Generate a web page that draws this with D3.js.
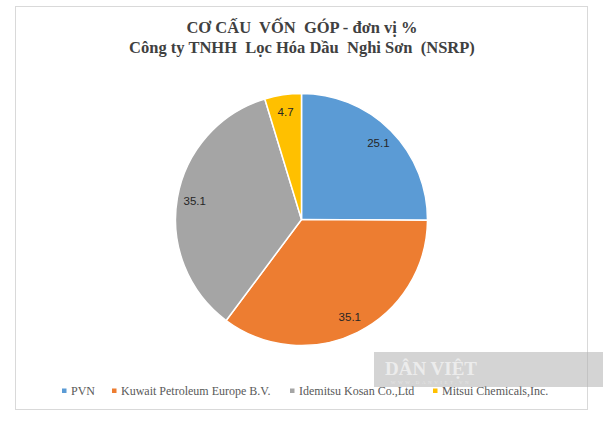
<!DOCTYPE html>
<html>
  <head>
    <meta charset="utf-8">
    <script type="text/javascript" src="https://cdn.jsdelivr.net/npm/d3@7/dist/d3.min.js"></script>
    <style>
      body { margin: 0; background: #fff; }
      svg { display: block; }
    </style>
  </head>
  <body>
  </body>
  <script type="text/javascript">

    var titleLines = ["CƠ CẤU  VỐN  GÓP - đơn vị %", "Công ty TNHH  Lọc Hóa Dầu  Nghi Sơn  (NSRP)"];
    var companies = ["PVN", "Kuwait Petroleum Europe B.V.", "Idemitsu Kosan Co.,Ltd", "Mitsui Chemicals,Inc."];
    var shares = [25.1, 35.1, 35.1, 4.7];
    var colors = ["#5b9bd5", "#ed7d31", "#a5a5a5", "#ffc000"];

    var W = 603, H = 424;
    var CX = 301.5, CY = 219.5, R = 126;

    var svg = d3.select("body").append("svg")
        .attr("width", W)
        .attr("height", H);

    // chart frame
    svg.append("rect")
        .attr("x", 15.5).attr("y", 6.5)
        .attr("width", 572).attr("height", 403)
        .attr("fill", "#fff")
        .attr("stroke", "#d9d9d9")
        .attr("stroke-width", 1);

    // title
    var title = svg.append("text")
        .attr("text-anchor", "middle")
        .style("font-family", "'Liberation Serif', 'Times New Roman', serif")
        .style("font-weight", "bold")
        .style("font-size", "16.5px")
        .attr("fill", "#404040");
    title.selectAll("tspan")
        .data(titleLines)
        .enter().append("tspan")
        .attr("x", 302)
        .attr("y", function(d, i){ return 33 + i * 19.5; })
        .attr("xml:space", "preserve")
        .style("white-space", "pre")
        .text(function(d){ return d; });

    // pie
    var pie = d3.pie().sort(null).value(function(d){ return d; });
    var arcs = pie(shares);
    var arc = d3.arc().innerRadius(0).outerRadius(R);
    var labelArc = d3.arc().innerRadius(R * 0.86).outerRadius(R * 0.86);

    var g = svg.append("g").attr("transform", "translate(" + CX + "," + CY + ")");

    g.selectAll("path.slice")
        .data(arcs)
        .enter().append("path")
        .attr("class", "slice")
        .attr("d", arc)
        .attr("fill", function(d, i){ return colors[i]; })
        .attr("stroke", "#fff")
        .attr("stroke-width", 1.5)
        .attr("stroke-linejoin", "round");

    g.selectAll("text.lbl")
        .data(arcs)
        .enter().append("text")
        .attr("class", "lbl")
        .attr("transform", function(d){ return "translate(" + labelArc.centroid(d) + ")"; })
        .attr("text-anchor", "middle")
        .attr("dy", "0.35em")
        .style("font-family", "'Liberation Sans', Arial, sans-serif")
        .style("font-size", "11.5px")
        .attr("fill", "#262626")
        .text(function(d){ return d.data.toFixed(1); });

    // legend
    var legendX = [64, 114, 292, 435];
    var legend = svg.selectAll("g.leg")
        .data(companies)
        .enter().append("g")
        .attr("class", "leg")
        .attr("transform", function(d, i){ return "translate(" + legendX[i] + ",391)"; });

    legend.append("rect")
        .attr("x", -2).attr("y", -2.5)
        .attr("width", 4.5).attr("height", 4.5)
        .attr("fill", function(d, i){ return colors[i]; });

    legend.append("text")
        .attr("x", 7)
        .attr("dy", "0.35em")
        .style("font-family", "'Liberation Serif', 'Times New Roman', serif")
        .style("font-size", "12px")
        .attr("fill", "#595959")
        .text(function(d){ return d; });

    // watermark
    svg.append("rect")
        .attr("x", 374).attr("y", 352)
        .attr("width", 229).attr("height", 35)
        .attr("fill", "#b0b0b0")
        .attr("opacity", 0.55);

    svg.append("text")
        .attr("x", 431).attr("y", 375)
        .attr("text-anchor", "middle")
        .style("font-family", "'Liberation Serif', serif")
        .style("font-weight", "bold")
        .style("font-size", "19px")
        .attr("fill", "#ececec")
        .text("DÂN VIỆT");

    svg.append("text")
        .attr("x", 431).attr("y", 384)
        .attr("text-anchor", "middle")
        .style("font-family", "'Liberation Serif', serif")
        .style("font-size", "5px")
        .style("letter-spacing", "2.5px")
        .attr("fill", "#e4e4e4")
        .text("WWW.DANVIET.VN");

  </script>
</html>
